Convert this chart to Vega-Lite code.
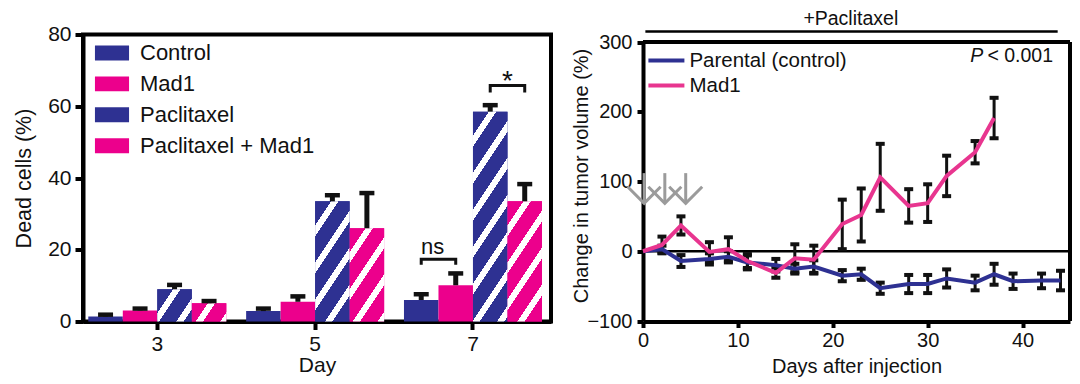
{
  "$schema": "https://vega.github.io/schema/vega-lite/v6.json",
  "padding": {"left": 10, "top": 8.5, "right": 2, "bottom": 2},
  "autosize": {"type": "pad"},
  "background": "white",
  "bounds": "flush",
  "spacing": 92,
  "resolve": {"scale": {"color": "independent"}, "legend": {"color": "independent"}},
  "config": {
    "font": "Liberation Sans",
    "axis": {"labelColor": "#111", "titleColor": "#111", "titleFontWeight": "normal", "domainColor": "#000", "tickColor": "#000", "grid": false, "labelFlush": false, "labelOverlap": false},
    "legend": {"labelColor": "#111", "padding": 0, "titlePadding": 0, "labelLimit": 400}
  },
  "datasets": {
    "bars": [
      {"day": 3, "g": "Control", "v": 1.4, "hi": 1.9},
      {"day": 3, "g": "Mad1", "v": 3.1, "hi": 3.6},
      {"day": 3, "g": "Paclitaxel", "v": 9.0, "hi": 10.2},
      {"day": 3, "g": "Paclitaxel + Mad1", "v": 5.1, "hi": 5.7},
      {"day": 5, "g": "Control", "v": 2.9, "hi": 3.6},
      {"day": 5, "g": "Mad1", "v": 5.5, "hi": 7.0},
      {"day": 5, "g": "Paclitaxel", "v": 33.5, "hi": 35.2},
      {"day": 5, "g": "Paclitaxel + Mad1", "v": 26.0, "hi": 35.8},
      {"day": 7, "g": "Control", "v": 6.0, "hi": 7.6},
      {"day": 7, "g": "Mad1", "v": 10.1, "hi": 13.4},
      {"day": 7, "g": "Paclitaxel", "v": 58.5, "hi": 60.3},
      {"day": 7, "g": "Paclitaxel + Mad1", "v": 33.5, "hi": 38.3}
    ],
    "ann": [
      {"id": "ns", "day": 7, "g": "Control", "y": 15.8, "o": 1},
      {"id": "ns", "day": 7, "g": "Control", "y": 17.35, "o": 2},
      {"id": "ns", "day": 7, "g": "Mad1", "y": 17.35, "o": 3},
      {"id": "ns", "day": 7, "g": "Mad1", "y": 15.8, "o": 4},
      {"id": "star", "day": 7, "g": "Paclitaxel", "y": 63.8, "o": 1},
      {"id": "star", "day": 7, "g": "Paclitaxel", "y": 65.8, "o": 2},
      {"id": "star", "day": 7, "g": "Paclitaxel + Mad1", "y": 65.8, "o": 3},
      {"id": "star", "day": 7, "g": "Paclitaxel + Mad1", "y": 63.8, "o": 4}
    ],
    "anntext": [
      {"t": "ns", "day": 7, "g": "Control", "y": 18.7},
      {"t": "*", "day": 7, "g": "Paclitaxel", "y": 64.6}
    ],
    "arrows": [{"day": 0.12}, {"day": 2.3}, {"day": 4.5}],
    "tumor": [
      {"day": 0, "s": "Parental (control)", "v": 0, "lo": null, "hi": null},
      {"day": 2, "s": "Parental (control)", "v": 3, "lo": -2, "hi": 8},
      {"day": 4, "s": "Parental (control)", "v": -14, "lo": -22.5, "hi": -5.5},
      {"day": 7, "s": "Parental (control)", "v": -11, "lo": -19, "hi": -3},
      {"day": 9, "s": "Parental (control)", "v": -8, "lo": -16, "hi": 0},
      {"day": 11, "s": "Parental (control)", "v": -16, "lo": -26, "hi": -6},
      {"day": 14, "s": "Parental (control)", "v": -20, "lo": -29, "hi": -11},
      {"day": 16, "s": "Parental (control)", "v": -25, "lo": -32, "hi": -18},
      {"day": 18, "s": "Parental (control)", "v": -22, "lo": -31, "hi": -13},
      {"day": 21, "s": "Parental (control)", "v": -35, "lo": -43, "hi": -27},
      {"day": 23, "s": "Parental (control)", "v": -33, "lo": -41, "hi": -25},
      {"day": 25, "s": "Parental (control)", "v": -53, "lo": -61, "hi": -45},
      {"day": 28, "s": "Parental (control)", "v": -47, "lo": -60, "hi": -34},
      {"day": 30, "s": "Parental (control)", "v": -47, "lo": -60, "hi": -34},
      {"day": 32, "s": "Parental (control)", "v": -39, "lo": -52, "hi": -26},
      {"day": 35, "s": "Parental (control)", "v": -45, "lo": -56, "hi": -35},
      {"day": 37, "s": "Parental (control)", "v": -33, "lo": -48, "hi": -18},
      {"day": 39, "s": "Parental (control)", "v": -43, "lo": -54, "hi": -32},
      {"day": 42, "s": "Parental (control)", "v": -42, "lo": -53, "hi": -32},
      {"day": 44, "s": "Parental (control)", "v": -42, "lo": -56, "hi": -28},
      {"day": 0, "s": "Mad1", "v": 0, "lo": null, "hi": null},
      {"day": 2, "s": "Mad1", "v": 9, "lo": -3, "hi": 21},
      {"day": 4, "s": "Mad1", "v": 37, "lo": 24, "hi": 50},
      {"day": 7, "s": "Mad1", "v": -1, "lo": -15, "hi": 13},
      {"day": 9, "s": "Mad1", "v": 3, "lo": -14, "hi": 20},
      {"day": 11, "s": "Mad1", "v": -14, "lo": -24, "hi": -4},
      {"day": 14, "s": "Mad1", "v": -31, "lo": -38, "hi": -23},
      {"day": 16, "s": "Mad1", "v": -10, "lo": -30, "hi": 10},
      {"day": 18, "s": "Mad1", "v": -12, "lo": -32, "hi": 8},
      {"day": 21, "s": "Mad1", "v": 39, "lo": 3, "hi": 74},
      {"day": 23, "s": "Mad1", "v": 52, "lo": 14, "hi": 90},
      {"day": 25, "s": "Mad1", "v": 106, "lo": 58, "hi": 154},
      {"day": 28, "s": "Mad1", "v": 65, "lo": 41, "hi": 89},
      {"day": 30, "s": "Mad1", "v": 69, "lo": 42, "hi": 96},
      {"day": 32, "s": "Mad1", "v": 108, "lo": 79, "hi": 137},
      {"day": 35, "s": "Mad1", "v": 142, "lo": 126, "hi": 158},
      {"day": 37, "s": "Mad1", "v": 191, "lo": 162, "hi": 220}
    ]
  },
  "hconcat": [
    {
      "width": 468,
      "height": 287,
      "view": {"stroke": "#000", "strokeWidth": 4},
      "layer": [
        {
          "data": {"name": "bars"},
          "mark": {"type": "bar"},
          "encoding": {
            "x": {"field": "day", "type": "nominal", "scale": {"paddingInner": 0.1257, "paddingOuter": 0.0454, "align": 0.37},
              "axis": {"title": "Day", "labelAngle": 0, "labelFontSize": 21, "titleFontSize": 21, "tickSize": 8, "tickWidth": 4, "domainWidth": 4, "labelPadding": 4, "titlePadding": 0, "bandPosition": 0.5}},
            "xOffset": {"field": "g", "type": "nominal", "scale": {"domain": ["Control", "Mad1", "Paclitaxel", "Paclitaxel + Mad1"], "paddingInner": 0, "paddingOuter": 0}},
            "y": {"field": "v", "type": "quantitative", "scale": {"domain": [0, 80], "nice": false},
              "axis": {"title": "Dead cells (%)", "values": [0, 20, 40, 60, 80], "labelFontSize": 21, "titleFontSize": 21.5, "tickSize": 8, "tickWidth": 4, "domainWidth": 4, "labelPadding": 4, "titleX": -48}},
            "color": {"field": "g", "type": "nominal",
              "scale": {"domain": ["Control", "Mad1", "Paclitaxel", "Paclitaxel + Mad1"], "range": ["#2e3192", "#ec008c", "#2e3192", "#ec008c"]},
              "legend": {"title": null, "orient": "none", "legendX": 13.5, "legendY": 3, "symbolType": "M-1.1,-0.48H1.1V0.48H-1.1Z", "symbolSize": 961, "symbolStrokeWidth": 0, "labelFontSize": 22, "labelOffset": 12.5, "rowPadding": 3.9, "padding": 0, "labelLimit": 400}
            }
          }
        },
        {
          "data": {"name": "bars"},
          "transform": [{"filter": "datum.day === 3 && datum.g === 'Paclitaxel'"}],
          "mark": {"type": "bar", "fill": {"gradient": "linear", "x1": 0, "y1": 0, "x2": 1.1689, "y2": 0.7293, "stops": [
            {"offset": 0, "color": "#2e3192"}, {"offset": 0.2858, "color": "#2e3192"}, {"offset": 0.2858, "color": "#ffffff"}, {"offset": 0.4167, "color": "#ffffff"}, {"offset": 0.4167, "color": "#2e3192"}, {"offset": 0.7263, "color": "#2e3192"}, {"offset": 0.7263, "color": "#ffffff"}, {"offset": 0.8573, "color": "#ffffff"}, {"offset": 0.8573, "color": "#2e3192"}, {"offset": 1, "color": "#2e3192"}]}},
          "encoding": {"x": {"field": "day", "type": "nominal"}, "xOffset": {"field": "g", "type": "nominal"}, "y": {"field": "v", "type": "quantitative"}}
        },
        {
          "data": {"name": "bars"},
          "transform": [{"filter": "datum.day === 3 && datum.g === 'Paclitaxel + Mad1'"}],
          "mark": {"type": "bar", "fill": {"gradient": "linear", "x1": 0, "y1": 0, "x2": 1.2032, "y2": 0.4255, "stops": [
            {"offset": 0, "color": "#ec008c"}, {"offset": 0.3428, "color": "#ec008c"}, {"offset": 0.3428, "color": "#ffffff"}, {"offset": 0.4999, "color": "#ffffff"}, {"offset": 0.4999, "color": "#ec008c"}, {"offset": 0.8713, "color": "#ec008c"}, {"offset": 0.8713, "color": "#ffffff"}, {"offset": 1, "color": "#ffffff"}]}},
          "encoding": {"x": {"field": "day", "type": "nominal"}, "xOffset": {"field": "g", "type": "nominal"}, "y": {"field": "v", "type": "quantitative"}}
        },
        {
          "data": {"name": "bars"},
          "transform": [{"filter": "datum.day === 5 && datum.g === 'Paclitaxel'"}],
          "mark": {"type": "bar", "fill": {"gradient": "linear", "x1": 0, "y1": 0, "x2": 0.5197, "y2": 1.2068, "stops": [
            {"offset": 0, "color": "#2e3192"}, {"offset": 0.1397, "color": "#2e3192"}, {"offset": 0.1397, "color": "#ffffff"}, {"offset": 0.2037, "color": "#ffffff"}, {"offset": 0.2037, "color": "#2e3192"}, {"offset": 0.355, "color": "#2e3192"}, {"offset": 0.355, "color": "#ffffff"}, {"offset": 0.419, "color": "#ffffff"}, {"offset": 0.419, "color": "#2e3192"}, {"offset": 0.5703, "color": "#2e3192"}, {"offset": 0.5703, "color": "#ffffff"}, {"offset": 0.6343, "color": "#ffffff"}, {"offset": 0.6343, "color": "#2e3192"}, {"offset": 0.7857, "color": "#2e3192"}, {"offset": 0.7857, "color": "#ffffff"}, {"offset": 0.8497, "color": "#ffffff"}, {"offset": 0.8497, "color": "#2e3192"}, {"offset": 1, "color": "#2e3192"}]}},
          "encoding": {"x": {"field": "day", "type": "nominal"}, "xOffset": {"field": "g", "type": "nominal"}, "y": {"field": "v", "type": "quantitative"}}
        },
        {
          "data": {"name": "bars"},
          "transform": [{"filter": "datum.day === 5 && datum.g === 'Paclitaxel + Mad1'"}],
          "mark": {"type": "bar", "fill": {"gradient": "linear", "x1": 0, "y1": 0, "x2": 0.6596, "y2": 1.1889, "stops": [
            {"offset": 0, "color": "#ec008c"}, {"offset": 0.1656, "color": "#ec008c"}, {"offset": 0.1656, "color": "#ffffff"}, {"offset": 0.2415, "color": "#ffffff"}, {"offset": 0.2415, "color": "#ec008c"}, {"offset": 0.4209, "color": "#ec008c"}, {"offset": 0.4209, "color": "#ffffff"}, {"offset": 0.4968, "color": "#ffffff"}, {"offset": 0.4968, "color": "#ec008c"}, {"offset": 0.6761, "color": "#ec008c"}, {"offset": 0.6761, "color": "#ffffff"}, {"offset": 0.752, "color": "#ffffff"}, {"offset": 0.752, "color": "#ec008c"}, {"offset": 0.9314, "color": "#ec008c"}, {"offset": 0.9314, "color": "#ffffff"}, {"offset": 1, "color": "#ffffff"}]}},
          "encoding": {"x": {"field": "day", "type": "nominal"}, "xOffset": {"field": "g", "type": "nominal"}, "y": {"field": "v", "type": "quantitative"}}
        },
        {
          "data": {"name": "bars"},
          "transform": [{"filter": "datum.day === 7 && datum.g === 'Paclitaxel'"}],
          "mark": {"type": "bar", "fill": {"gradient": "linear", "x1": 0, "y1": 0, "x2": 0.2898, "y2": 1.1751, "stops": [
            {"offset": 0, "color": "#2e3192"}, {"offset": 0.0918, "color": "#2e3192"}, {"offset": 0.0918, "color": "#ffffff"}, {"offset": 0.1339, "color": "#ffffff"}, {"offset": 0.1339, "color": "#2e3192"}, {"offset": 0.2333, "color": "#2e3192"}, {"offset": 0.2333, "color": "#ffffff"}, {"offset": 0.2754, "color": "#ffffff"}, {"offset": 0.2754, "color": "#2e3192"}, {"offset": 0.3748, "color": "#2e3192"}, {"offset": 0.3748, "color": "#ffffff"}, {"offset": 0.4169, "color": "#ffffff"}, {"offset": 0.4169, "color": "#2e3192"}, {"offset": 0.5163, "color": "#2e3192"}, {"offset": 0.5163, "color": "#ffffff"}, {"offset": 0.5584, "color": "#ffffff"}, {"offset": 0.5584, "color": "#2e3192"}, {"offset": 0.6578, "color": "#2e3192"}, {"offset": 0.6578, "color": "#ffffff"}, {"offset": 0.6999, "color": "#ffffff"}, {"offset": 0.6999, "color": "#2e3192"}, {"offset": 0.7993, "color": "#2e3192"}, {"offset": 0.7993, "color": "#ffffff"}, {"offset": 0.8414, "color": "#ffffff"}, {"offset": 0.8414, "color": "#2e3192"}, {"offset": 0.9408, "color": "#2e3192"}, {"offset": 0.9408, "color": "#ffffff"}, {"offset": 0.9829, "color": "#ffffff"}, {"offset": 0.9829, "color": "#2e3192"}, {"offset": 1, "color": "#2e3192"}]}},
          "encoding": {"x": {"field": "day", "type": "nominal"}, "xOffset": {"field": "g", "type": "nominal"}, "y": {"field": "v", "type": "quantitative"}}
        },
        {
          "data": {"name": "bars"},
          "transform": [{"filter": "datum.day === 7 && datum.g === 'Paclitaxel + Mad1'"}],
          "mark": {"type": "bar", "fill": {"gradient": "linear", "x1": 0, "y1": 0, "x2": 0.5197, "y2": 1.2068, "stops": [
            {"offset": 0, "color": "#ec008c"}, {"offset": 0.1397, "color": "#ec008c"}, {"offset": 0.1397, "color": "#ffffff"}, {"offset": 0.2037, "color": "#ffffff"}, {"offset": 0.2037, "color": "#ec008c"}, {"offset": 0.355, "color": "#ec008c"}, {"offset": 0.355, "color": "#ffffff"}, {"offset": 0.419, "color": "#ffffff"}, {"offset": 0.419, "color": "#ec008c"}, {"offset": 0.5703, "color": "#ec008c"}, {"offset": 0.5703, "color": "#ffffff"}, {"offset": 0.6343, "color": "#ffffff"}, {"offset": 0.6343, "color": "#ec008c"}, {"offset": 0.7857, "color": "#ec008c"}, {"offset": 0.7857, "color": "#ffffff"}, {"offset": 0.8497, "color": "#ffffff"}, {"offset": 0.8497, "color": "#ec008c"}, {"offset": 1, "color": "#ec008c"}]}},
          "encoding": {"x": {"field": "day", "type": "nominal"}, "xOffset": {"field": "g", "type": "nominal"}, "y": {"field": "v", "type": "quantitative"}}
        },
        {
          "data": {"name": "bars"},
          "mark": {"type": "rule", "color": "#111", "strokeWidth": 5},
          "encoding": {"x": {"field": "day", "type": "nominal"}, "xOffset": {"field": "g", "type": "nominal"}, "y": {"field": "v", "type": "quantitative"}, "y2": {"field": "hi"}}
        },
        {
          "data": {"name": "bars"},
          "mark": {"type": "point", "shape": "stroke", "size": 225, "filled": false, "color": "#111", "strokeWidth": 4.5, "opacity": 1},
          "encoding": {"x": {"field": "day", "type": "nominal"}, "xOffset": {"field": "g", "type": "nominal"}, "y": {"field": "hi", "type": "quantitative"}}
        },
        {
          "data": {"name": "ann"},
          "transform": [{"filter": "datum.id === 'ns'"}],
          "mark": {"type": "line", "color": "#111", "strokeWidth": 3, "xOffset": -5},
          "encoding": {"x": {"field": "day", "type": "nominal"}, "xOffset": {"field": "g", "type": "nominal"}, "y": {"field": "y", "type": "quantitative"}, "order": {"field": "o"}}
        },
        {
          "data": {"name": "ann"},
          "transform": [{"filter": "datum.id === 'star'"}],
          "mark": {"type": "line", "color": "#111", "strokeWidth": 3},
          "encoding": {"x": {"field": "day", "type": "nominal"}, "xOffset": {"field": "g", "type": "nominal"}, "y": {"field": "y", "type": "quantitative"}, "order": {"field": "o"}}
        },
        {
          "data": {"name": "anntext"},
          "transform": [{"filter": "datum.t === 'ns'"}],
          "mark": {"type": "text", "fontSize": 22, "dx": 11.5, "align": "center", "baseline": "alphabetic", "color": "#111"},
          "encoding": {"x": {"field": "day", "type": "nominal"}, "xOffset": {"field": "g", "type": "nominal"}, "y": {"field": "y", "type": "quantitative"}, "text": {"field": "t"}}
        },
        {
          "data": {"name": "anntext"},
          "transform": [{"filter": "datum.t === '*'"}],
          "mark": {"type": "text", "fontSize": 28, "dx": 17.24, "align": "center", "baseline": "alphabetic", "color": "#111"},
          "encoding": {"x": {"field": "day", "type": "nominal"}, "xOffset": {"field": "g", "type": "nominal"}, "y": {"field": "y", "type": "quantitative"}, "text": {"field": "t"}}
        }
      ]
    },
    {
      "width": 427,
      "height": 287,
      "view": {"stroke": null},
      "layer": [
        {
          "data": {"values": [{}]},
          "mark": {"type": "rule", "color": "#000", "strokeWidth": 2.5},
          "encoding": {"y": {"datum": 0}}
        },
        {
          "data": {"values": [{}]},
          "mark": {"type": "rule", "color": "#000", "strokeWidth": 4},
          "encoding": {"x": {"datum": 0}, "x2": {"datum": 45}, "y": {"datum": 300}}
        },
        {
          "data": {"values": [{}]},
          "mark": {"type": "rule", "color": "#000", "strokeWidth": 4},
          "encoding": {"x": {"datum": 45}, "y": {"datum": -100}, "y2": {"datum": 300}}
        },
        {
          "data": {"values": [{}]},
          "mark": {"type": "rule", "color": "#000", "strokeWidth": 2.5},
          "encoding": {"x": {"datum": 0.25}, "x2": {"datum": 43.7}, "y": {"datum": 315}}
        },
        {
          "data": {"values": [{}]},
          "mark": {"type": "text", "text": "+Paclitaxel", "fontSize": 19.5, "align": "center", "baseline": "alphabetic", "color": "#111"},
          "encoding": {"x": {"datum": 21.9}, "y": {"datum": 325}}
        },
        {
          "data": {"name": "arrows"},
          "mark": {"type": "rule", "color": "#9b9b9b", "strokeWidth": 3},
          "encoding": {"x": {"field": "day", "type": "quantitative"}, "y": {"datum": 68.8}, "y2": {"datum": 112}}
        },
        {
          "data": {"name": "arrows"},
          "mark": {"type": "point", "shape": "M-1,-1L0,0L1,-1", "size": 1089, "filled": false, "color": "#9b9b9b", "strokeWidth": 3, "opacity": 1},
          "encoding": {"x": {"field": "day", "type": "quantitative"}, "y": {"datum": 68.8}}
        },
        {
          "data": {"name": "tumor"},
          "transform": [{"filter": "datum.lo != null"}],
          "mark": {"type": "rule", "color": "#111", "strokeWidth": 3},
          "encoding": {"x": {"field": "day", "type": "quantitative"}, "y": {"field": "lo", "type": "quantitative"}, "y2": {"field": "hi"}}
        },
        {
          "data": {"name": "tumor"},
          "transform": [{"filter": "datum.lo != null"}],
          "mark": {"type": "point", "shape": "stroke", "size": 81, "filled": false, "color": "#111", "strokeWidth": 4, "opacity": 1},
          "encoding": {"x": {"field": "day", "type": "quantitative"}, "y": {"field": "lo", "type": "quantitative"}}
        },
        {
          "data": {"name": "tumor"},
          "transform": [{"filter": "datum.lo != null"}],
          "mark": {"type": "point", "shape": "stroke", "size": 81, "filled": false, "color": "#111", "strokeWidth": 4, "opacity": 1},
          "encoding": {"x": {"field": "day", "type": "quantitative"}, "y": {"field": "hi", "type": "quantitative"}}
        },
        {
          "data": {"name": "tumor"},
          "mark": {"type": "line", "strokeWidth": 4},
          "encoding": {
            "x": {"field": "day", "type": "quantitative", "scale": {"domain": [0, 45], "nice": false, "zero": false},
              "axis": {"title": "Days after injection", "values": [0, 10, 20, 30, 40], "labelFontSize": 20, "titleFontSize": 20, "tickSize": 6, "tickWidth": 4, "domainWidth": 4, "labelPadding": 3, "titlePadding": 6}},
            "y": {"field": "v", "type": "quantitative", "scale": {"domain": [-100, 300], "nice": false, "range": [286.5, 7.5]},
              "axis": {"title": "Change in tumor volume (%)", "values": [-100, 0, 100, 200, 300], "labelFontSize": 20, "titleFontSize": 20, "tickSize": 6, "tickWidth": 4, "domainWidth": 4, "labelPadding": 5, "titleX": -52, "titleY": 141}},
            "color": {"field": "s", "type": "nominal",
              "scale": {"domain": ["Parental (control)", "Mad1"], "range": ["#2e3192", "#e8358f"]},
              "legend": {"title": null, "orient": "none", "legendX": 9.4, "legendY": 12, "symbolType": "M-1.5,0H1.5", "symbolSize": 576, "symbolStrokeWidth": 4, "labelFontSize": 20.5, "labelOffset": 9, "rowPadding": 0, "padding": 0, "labelLimit": 400}}
          }
        },
        {
          "data": {"values": [{}]},
          "mark": {"type": "text", "text": "P", "fontStyle": "italic", "fontSize": 19.5, "align": "left", "baseline": "alphabetic", "color": "#111"},
          "encoding": {"x": {"datum": 34.5}, "y": {"datum": 272}}
        },
        {
          "data": {"values": [{}]},
          "mark": {"type": "text", "text": "< 0.001", "fontSize": 19.5, "align": "left", "baseline": "alphabetic", "color": "#111"},
          "encoding": {"x": {"datum": 36.3}, "y": {"datum": 272}}
        }
      ]
    }
  ]
}
